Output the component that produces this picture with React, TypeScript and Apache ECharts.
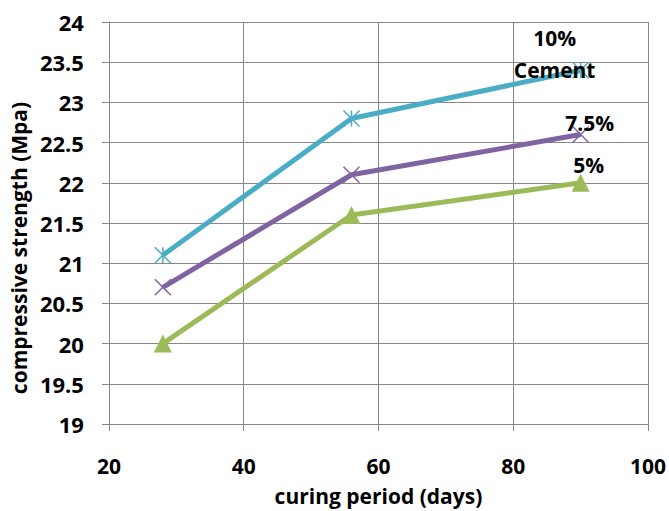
import React, { useEffect, useRef } from "react";
import * as echarts from "echarts";

const days = [28, 56, 90];
const cement10 = [21.1, 22.8, 23.4];
const cement75 = [20.7, 22.1, 22.6];
const cement5 = [20.0, 21.6, 22.0];
const seriesNames = ["10%\nCement", "7.5%", "5%"];

const FONT = "'Open Sans', sans-serif";
const GRAY = "#878787";

export default function App() {
  const ref = useRef<HTMLDivElement>(null);
  useEffect(() => {
    if (!ref.current) return;
    const chart = echarts.init(ref.current, undefined, { renderer: "svg" });
    const asterisk = "path://M0,0L10,10M10,0L0,10M5,0L5,10";
    const cross = "path://M0,0L10,10M10,0L0,10";
    const mk = (vals: number[]) => vals.map((v, i) => [days[i], v]);
    const lastLabel = (text: string, offset: number[], lineHeight = 24) => ({
      show: true,
      formatter: () => text,
      position: "inside",
      align: "center",
      verticalAlign: "middle",
      offset,
      fontFamily: FONT,
      fontWeight: "bold",
      fontSize: 21,
      lineHeight,
      color: "#000",
    });
    const withLabel = (vals: number[], label: any) =>
      mk(vals).map((d, i) => (i === vals.length - 1 ? { value: d, label } : { value: d }));
    chart.setOption({
      animation: false,
      grid: { left: 108, right: 21, top: 22, bottom: 87 },
      xAxis: {
        type: "value",
        min: 20,
        max: 100,
        interval: 20,
        name: "curing period (days)",
        nameLocation: "middle",
        nameGap: 61,
        nameTextStyle: { fontFamily: FONT, fontWeight: "bold", fontSize: 21, lineHeight: 21, color: "#000" },
        axisLine: { show: true, lineStyle: { color: GRAY, width: 1 } },
        axisTick: { show: true, inside: false, length: 7, lineStyle: { color: GRAY } },
        axisLabel: { margin: 32, fontFamily: FONT, fontWeight: "bold", fontSize: 21, lineHeight: 20, color: "#000" },
        splitLine: { show: true, lineStyle: { color: GRAY, width: 1 } },
      },
      yAxis: {
        type: "value",
        min: 19,
        max: 24,
        interval: 0.5,
        name: "compressive strength (Mpa)",
        nameLocation: "middle",
        nameGap: 74,
        nameTextStyle: {
          fontFamily: FONT,
          fontWeight: "bold",
          fontSize: 21,
          color: "#000",
          padding: [0, 50, 0, 0],
        },
        axisLine: { show: true, lineStyle: { color: GRAY, width: 1 } },
        axisTick: { show: true, inside: false, length: 7, lineStyle: { color: GRAY } },
        axisLabel: { margin: 25, fontFamily: FONT, fontWeight: "bold", fontSize: 22, color: "#000" },
        splitLine: { show: true, lineStyle: { color: GRAY, width: 1 } },
      },
      series: [
        {
          name: seriesNames[0],
          type: "line",
          data: withLabel(cement10, lastLabel(seriesNames[0], [-26, -16], 32)),
          lineStyle: { color: "#4BACC6", width: 5 },
          symbol: asterisk,
          symbolSize: 16,
          itemStyle: { color: "#4BACC6", borderColor: "#4BACC6", borderWidth: 1.5 },
          z: 3,
        },
        {
          name: seriesNames[1],
          type: "line",
          data: withLabel(cement75, lastLabel(seriesNames[1], [9, -12])),
          lineStyle: { color: "#8064A2", width: 5 },
          symbol: cross,
          symbolSize: 16,
          itemStyle: { color: "#8064A2", borderColor: "#8064A2", borderWidth: 1.5 },
          z: 3,
        },
        {
          name: seriesNames[2],
          type: "line",
          data: withLabel(cement5, lastLabel(seriesNames[2], [8, -18])),
          lineStyle: { color: "#9BBB59", width: 5 },
          symbol: "triangle",
          symbolSize: 18,
          itemStyle: { color: "#9BBB59" },
          z: 3,
        },
      ],
    });
    return () => chart.dispose();
  }, []);
  return <div ref={ref} style={{ width: 669, height: 511, position: "absolute", left: 0, top: 0 }} />;
}
